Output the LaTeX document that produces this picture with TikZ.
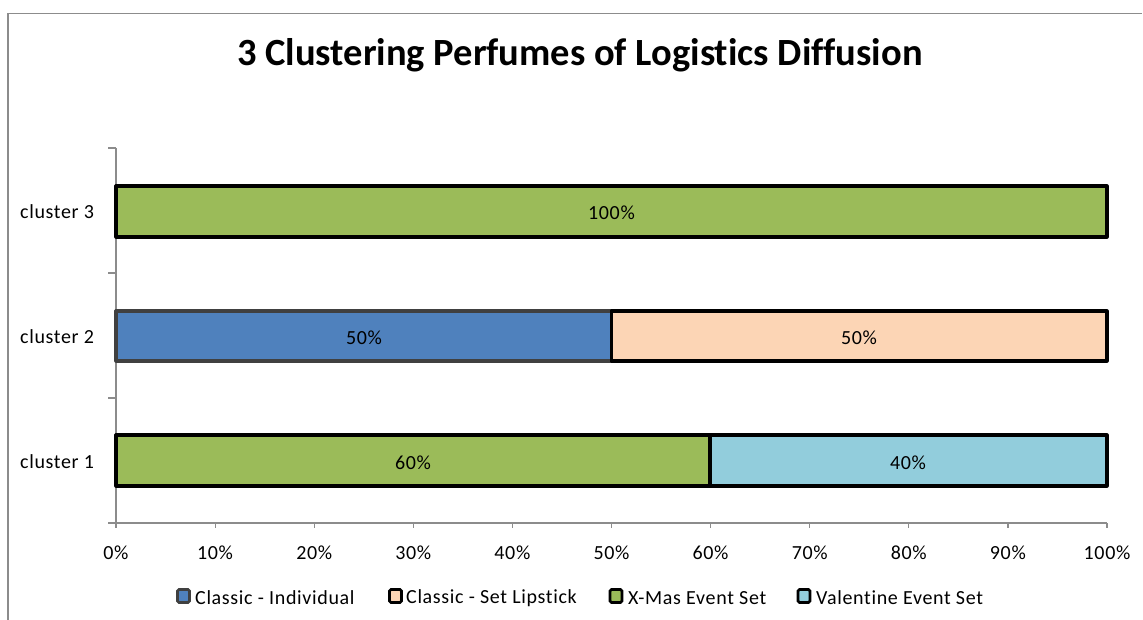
\documentclass[tikz,border=0pt]{standalone}
\usepackage{fontspec}
\setmainfont[Ligatures=NoCommon]{Carlito}
\newfontfamily\chartfont[LetterSpace=3.3,Ligatures=NoCommon]{Carlito}
\definecolor{cblue}{HTML}{4F81BD}
\definecolor{cpeach}{HTML}{FCD5B5}
\definecolor{cgreen}{HTML}{9BBB59}
\definecolor{cteal}{HTML}{92CDDC}
\definecolor{cdark}{HTML}{404040}
\definecolor{caxis}{HTML}{8C8C8C}
\definecolor{cframe}{HTML}{8C8C8C}
\begin{document}
\begin{tikzpicture}[x=1pt,y=-1pt,
  seg/.style={draw=black,line width=3.2pt,line join=round},
  segdark/.style={draw=cdark,line width=3.2pt,line join=round},
  lbl/.style={font=\chartfont\fontsize{20}{24}\selectfont,inner sep=0pt},
  ticklbl/.style={font=\chartfont\fontsize{20}{24}\selectfont,inner sep=0pt},
  legtxt/.style={font=\chartfont\fontsize{20}{24}\selectfont,inner sep=0pt,anchor=west},
  legbox/.style={minimum width=12pt,minimum height=13pt,inner sep=0pt,line width=2.6pt,rounded corners=1.5pt},
  axisline/.style={draw=caxis,line width=1.2pt}]
\useasboundingbox (0,0) rectangle (1143,620);
\fill[white] (0,0) rectangle (1143,620);
% frame
\draw[cframe,line width=1.5pt] (8,620) -- (8,13.5) -- (1142,13.5);
% title
\node[font=\bfseries\fontsize{38.5}{44}\selectfont,inner sep=0pt] (title) at (580,55) {3 Clustering Perfumes of Logistics Diffusion};
% axes
\draw[axisline] (116,148) -- (116,523);
\draw[axisline] (108,523) -- (1107,523);
\foreach \yy in {148,273,398,523} \draw[axisline] (108,\yy) -- (116,\yy);
\foreach \i in {0,...,10} {
  \pgfmathsetmacro{\xx}{116+99.1*\i}
  \draw[axisline] (\xx,523) -- (\xx,528);
  \pgfmathtruncatemacro{\pc}{10*\i}
  \node[ticklbl] (t\i) at (\xx,553) {\pc\%};
}
% category labels
\node[lbl,anchor=west] (c3) at (20,212) {cluster 3};
\node[lbl,anchor=west] (c2) at (20,337) {cluster 2};
\node[lbl,anchor=west] (c1) at (20,462) {cluster 1};
% bars
\path[fill=cgreen,seg] (116,186) rectangle (1107,237);
\node[lbl] (v3) at (611.5,213) {100\%};
\path[fill=cblue,segdark] (116,311) rectangle (611.5,361);
\path[fill=cpeach,seg] (611.5,311) rectangle (1107,361);
\node[lbl] (v2a) at (364,338) {50\%};
\node[lbl] (v2b) at (859,338) {50\%};
\path[fill=cgreen,seg] (116,435) rectangle (710,486);
\path[fill=cteal,seg] (710,435) rectangle (1107,486);
\node[lbl] (v1a) at (413,463) {60\%};
\node[lbl] (v1b) at (908,463) {40\%};
% legend
\node[legbox,draw=cdark,fill=cblue] (l1) at (183.5,596) {};
\node[legtxt] (lt1) at (195,598) {Classic - Individual};
\node[legbox,draw=black,fill=cpeach] (l2) at (395.5,596) {};
\node[legtxt] (lt2) at (406,598) {Classic - Set Lipstick};
\node[legbox,draw=black,fill=cgreen] (l3) at (616,596) {};
\node[legtxt] (lt3) at (628,598) {X-Mas Event Set};
\node[legbox,draw=black,fill=cteal] (l4) at (804,596) {};
\node[legtxt] (lt4) at (816,598) {Valentine Event Set};
\end{tikzpicture}
\end{document}
